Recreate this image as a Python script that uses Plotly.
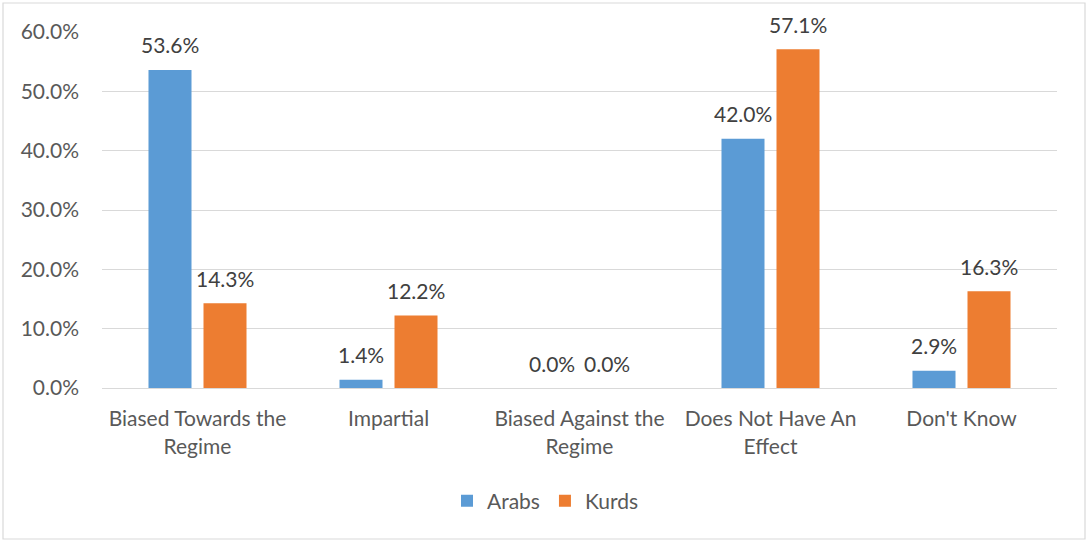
import plotly.graph_objects as go

categories = ["Biased Towards the<br>Regime", "Impartial", "Biased Against the<br>Regime",
              "Does Not Have An<br>Effect", "Don't Know"]
arabs = [53.6, 1.4, 0.0, 42.0, 2.9]
kurds = [14.3, 12.2, 0.0, 57.1, 16.3]
tick_vals = [0, 10, 20, 30, 40, 50, 60]
tick_text = ["0.0%", "10.0%", "20.0%", "30.0%", "40.0%", "50.0%", "60.0%"]

W, H = 1088, 540
L, R, T, B = 102, 1057, 32, 388
pw, ph = R - L, B - T

def px(x):
    return (x - L) / pw

def py(y):
    return (B - y) / ph

FONT = "Lato"
FS = 21
fig = go.Figure()
series = [("Arabs", arabs, "#5B9BD5", -27.5), ("Kurds", kurds, "#ED7D31", 27.5)]
for name, vals, color, shift in series:
    fig.add_trace(go.Bar(
        name=name, x=categories, y=vals, marker=dict(color=color, line=dict(width=0)),
    ))
    for c, v in zip(categories, vals):
        fig.add_annotation(x=c, y=v, xref="x", yref="y", text=f"{v:.1f}%",
                           showarrow=False, xshift=shift, yshift=25, yanchor="middle",
                           font=dict(family=FONT, size=FS, color="#404040"))

fig.update_layout(
    width=W, height=H,
    margin=dict(l=L, r=W - R, t=T, b=H - B, autoexpand=False),
    paper_bgcolor="white", plot_bgcolor="white",
    barmode="group", bargap=0.424, bargroupgap=0.218,
    font=dict(family=FONT, size=FS, color="#595959"),
    showlegend=True,
    legend=dict(orientation="h", x=px(545.5), xanchor="center", y=py(501), yanchor="middle",
                font=dict(family=FONT, size=FS, color="#595959"), itemwidth=30),
    xaxis=dict(showgrid=False, showline=True, linecolor="#D9D9D9", linewidth=1,
               ticks="", ticklabelstandoff=12,
               tickfont=dict(family=FONT, size=FS, color="#595959")),
    yaxis=dict(range=[0, 60], tickvals=tick_vals, ticktext=tick_text,
               showgrid=True, gridcolor="#D9D9D9", gridwidth=1, zeroline=False,
               showline=False, ticks="", ticklabelstandoff=22,
               tickfont=dict(family=FONT, size=FS, color="#595959")),
    shapes=[dict(type="rect", xref="paper", yref="paper",
                 x0=px(3), x1=px(1085), y0=py(539), y1=py(3),
                 line=dict(color="#D9D9D9", width=1.2), fillcolor="rgba(0,0,0,0)", layer="below")],
)

fig.write_html("out.html")
